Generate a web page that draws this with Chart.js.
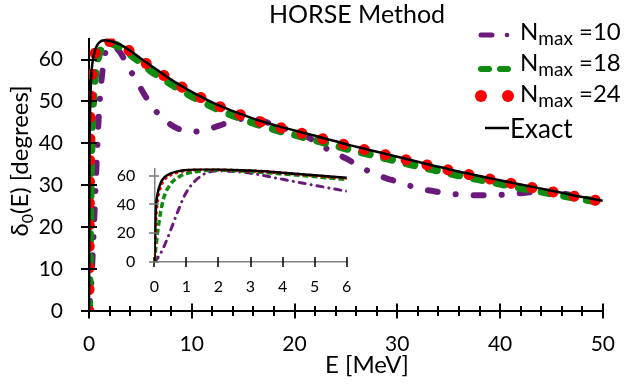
<!DOCTYPE html>
<html>
<head>
<meta charset="utf-8">
<script src="https://cdn.jsdelivr.net/npm/chart.js@4.4.1/dist/chart.umd.min.js"></script>
<style>
body{margin:0;background:#fff;}
#wrap{position:relative;width:636px;height:384px;}
#chartMain{position:absolute;left:0;top:0;}
#chartInset{position:absolute;left:100px;top:140px;}
</style>
</head>
<body>
<div id="wrap">
<canvas id="chartMain" width="636" height="384"></canvas>
<canvas id="chartInset" width="270" height="160"></canvas>
</div>
<script>
const energy = [0, 0.05, 0.1, 0.2, 0.3, 0.5, 0.75, 1, 1.5, 2, 2.5, 3, 4, 5, 6, 7, 8, 9, 10, 11, 12, 13, 14, 15, 16, 17, 18, 19, 20, 21, 22, 23, 24, 25, 26, 27, 28, 29, 30, 32, 34, 36, 38, 40, 42, 44, 46, 48, 50];
const exact = [0, 37, 47, 55, 58.5, 61.5, 63.2, 64.1, 64.6, 64.5, 64.1, 63.6, 62.1, 60.3, 58.6, 56.9, 55.2, 53.7, 52.3, 51.0, 49.8, 48.7, 47.7, 46.8, 45.9, 45.1, 44.4, 43.7, 43.1, 42.4, 41.8, 41.1, 40.5, 39.8, 39.2, 38.6, 38.0, 37.4, 36.8, 35.6, 34.4, 33.3, 32.2, 31.2, 30.2, 29.2, 28.2, 27.2, 26.3];
const nmax24 = [0, 30, 43, 52.5, 57, 60.5, 62.6, 63.7, 64.4, 64.3, 64.0, 63.5, 62.0, 60.1, 58.3, 56.7, 55.0, 53.5, 52.1, 50.8, 49.6, 48.5, 47.5, 46.6, 45.7, 44.9, 44.2, 43.5, 42.9, 42.2, 41.6, 40.9, 40.3, 39.6, 39.0, 38.4, 37.8, 37.2, 36.6, 35.4, 34.2, 33.1, 32.0, 31.0, 30.0, 29.0, 28.0, 27.0, 26.1];
const nmax18 = [0, 10, 20, 35, 45, 54, 59, 61.5, 63.5, 64, 63.6, 63, 61.3, 59.4, 57.4, 55.8, 54.2, 52.7, 51.3, 50.0, 48.8, 47.7, 46.7, 45.8, 44.9, 44.1, 43.4, 42.7, 42.1, 41.4, 40.8, 40.1, 39.5, 38.8, 38.2, 37.6, 37.0, 36.4, 35.8, 34.6, 33.5, 32.4, 31.4, 30.4, 29.4, 28.5, 27.6, 26.7, 25.9];
const nmax10 = [0, 1, 2.5, 6, 10.5, 21.5, 36, 48.5, 60.5, 63.3, 63, 61.8, 57.5, 53.3, 49.3, 46.4, 44.4, 43.2, 42.8, 43.0, 43.7, 44.5, 45.3, 45.9, 46.0, 45.3, 44.4, 43.6, 42.9, 41.9, 40.4, 38.9, 37.6, 36.4, 35.0, 33.6, 32.5, 31.6, 30.9, 29.3, 28.4, 27.8, 27.6, 27.7, 28.1, 28.5, 28.1, 27.1, 26.2];
const mainXLabels = [0, 10, 20, 30, 40, 50];
const legendNmax = ['10', '18', '24'];

const FONT = 'Lato, "Open Sans", sans-serif';
const purple = '#6b1a7b';
const green = '#108a10';
const red = '#ff0000';

Chart.defaults.font.family = FONT;
Chart.defaults.color = '#000';

function points(values) {
	return energy.map((e, i) => ({x: e, y: values[i]}));
}

function seg(ctx, x1, y1, x2, y2) {
	ctx.beginPath();
	ctx.moveTo(x1, y1);
	ctx.lineTo(x2, y2);
	ctx.stroke();
}

function drawParts(ctx, x, y, parts) {
	parts.forEach(p => {
		ctx.font = p[1] + 'px ' + FONT;
		ctx.fillText(p[0], x, y + p[2]);
		x += ctx.measureText(p[0]).width;
	});
	return x;
}

function partsWidth(ctx, parts) {
	let w = 0;
	parts.forEach(p => {
		ctx.font = p[1] + 'px ' + FONT;
		w += ctx.measureText(p[0]).width;
	});
	return w;
}

// tick marks that cross the axis line, placed with the scales
function crossTicks(chart, o) {
	const ctx = chart.ctx;
	const xs = chart.scales.x, ys = chart.scales.y;
	const bottom = Math.round(ys.getPixelForValue(ys.min));
	const left = Math.round(xs.getPixelForValue(xs.min));
	ctx.save();
	ctx.fillStyle = o.xColor;
	for (let i = 0; xs.min + i * o.xStep <= xs.max + 1e-9; i++) {
		const v = xs.min + i * o.xStep;
		const px = Math.round(xs.getPixelForValue(v));
		const h = (Math.abs(v % o.xMajor) < 1e-9) ? o.xBig : o.xSmall;
		ctx.fillRect(px - o.width / 2, bottom - h, o.width, 2 * h);
	}
	ctx.fillStyle = o.yColor;
	for (let i = 0; ys.min + i * o.yStep <= ys.max + 1e-9; i++) {
		const py = Math.round(ys.getPixelForValue(ys.min + i * o.yStep));
		ctx.fillRect(left - o.yLen, py - o.width / 2, 2 * o.yLen, o.width);
	}
	ctx.restore();
}

const mainDecor = {
	id: 'mainDecor',
	beforeDraw(chart) {
		const ctx = chart.ctx;
		ctx.save();
		ctx.fillStyle = '#fff';
		ctx.fillRect(0, 0, chart.width, chart.height);
		ctx.restore();
	},
	afterDraw(chart) {
		const ctx = chart.ctx;
		crossTicks(chart, {width: 2, xColor: '#000', yColor: '#000', xStep: 2, xMajor: 10, xBig: 7.5, xSmall: 5, yStep: 10, yLen: 8});
		ctx.save();
		ctx.fillStyle = '#000';
		ctx.textBaseline = 'alphabetic';

		// title
		ctx.textAlign = 'center';
		ctx.font = '25px ' + FONT;
		ctx.fillText('HORSE Method', 357, 23);

		// x title
		ctx.font = '24px ' + FONT;
		ctx.fillText('E [MeV]', 367, 373);

		// y title with subscript
		ctx.textAlign = 'left';
		const yParts = [['δ', 24, 0], ['0', 16, 5], ['(E) [degrees]', 24, 0]];
		ctx.translate(28, 161);
		ctx.rotate(-Math.PI / 2);
		drawParts(ctx, -partsWidth(ctx, yParts) / 2, 0, yParts);
		ctx.setTransform(1, 0, 0, 1, 0, 0);

		// legend
		const rows = [40, 71, 102];
		rows.forEach((by, i) => {
			drawParts(ctx, 520, by, [['N', 24, 0], ['max', 19, 5], [' =' + legendNmax[i], 24, 0]]);
		});
		ctx.font = '26px ' + FONT;
		ctx.fillText('Exact', 510, 138);

		ctx.lineCap = 'round';
		ctx.strokeStyle = purple;
		ctx.lineWidth = 5;
		seg(ctx, 481, 35, 492, 35);
		ctx.fillStyle = purple;
		ctx.beginPath();
		ctx.arc(507, 35, 2.3, 0, Math.PI * 2);
		ctx.fill();

		ctx.strokeStyle = green;
		ctx.lineWidth = 6;
		seg(ctx, 481, 69, 489, 69);
		seg(ctx, 500, 69, 508, 69);

		ctx.fillStyle = red;
		[481, 508].forEach(cx => {
			ctx.beginPath();
			ctx.arc(cx, 96, 6, 0, Math.PI * 2);
			ctx.fill();
		});

		ctx.lineCap = 'butt';
		ctx.strokeStyle = '#000';
		ctx.lineWidth = 2.5;
		seg(ctx, 485, 128, 509, 128);
		ctx.restore();
	}
};

const insetDecor = {
	id: 'insetDecor',
	afterDraw(chart) {
		crossTicks(chart, {width: 1.5, xColor: '#000', yColor: '#777', xStep: 1, xMajor: 1, xBig: 5, xSmall: 5, yStep: 20, yLen: 5});
	}
};

function dataset(label, values, color, width, dash, cap) {
	return {
		label: label,
		data: points(values),
		borderColor: color,
		borderWidth: width,
		borderDash: dash,
		borderCapStyle: cap,
		pointRadius: 0,
		fill: false,
		cubicInterpolationMode: 'monotone'
	};
}

new Chart(document.getElementById('chartMain'), {
	type: 'line',
	data: {
		datasets: [
			dataset('Exact', exact, '#000', 2.5, [], 'butt'),
			dataset('Nmax=24', nmax24, red, 11, [0.1, 21.4], 'round'),
			dataset('Nmax=18', nmax18, green, 8, [8, 15], 'round'),
			dataset('Nmax=10', nmax10, purple, 6, [10, 18, 0.1, 18], 'round')
		]
	},
	options: {
		responsive: false,
		animation: false,
		events: [],
		layout: {padding: {left: 0, right: 14, top: 4, bottom: 0}},
		scales: {
			x: {
				type: 'linear', min: 0, max: 50,
				afterFit: s => { s.height = 73; },
				grid: {display: false, drawTicks: false},
				border: {color: '#000', width: 2},
				ticks: {stepSize: 2, autoSkip: false, maxRotation: 0, padding: 21, font: {size: 21},
					callback: v => mainXLabels.includes(v) ? v : ''}
			},
			y: {
				min: 0, max: 65,
				afterFit: s => { s.width = 89; },
				grid: {display: false, drawTicks: false},
				border: {color: '#000', width: 2},
				ticks: {stepSize: 10, includeBounds: false, padding: 26, font: {size: 21}}
			}
		},
		plugins: {legend: {display: false}, tooltip: {enabled: false}}
	},
	plugins: [mainDecor]
});

new Chart(document.getElementById('chartInset'), {
	type: 'line',
	data: {
		datasets: [
			dataset('Exact', exact, '#000', 2.5, [], 'butt'),
			dataset('Nmax=24', nmax24, red, 3.5, [0.1, 6], 'round'),
			dataset('Nmax=18', nmax18, green, 3.5, [6, 3], 'butt'),
			dataset('Nmax=10', nmax10, purple, 3, [6, 6, 0.1, 6], 'round')
		]
	},
	options: {
		responsive: false,
		animation: false,
		events: [],
		layout: {padding: {left: 0, right: 23.3, top: 18.3, bottom: 0}},
		scales: {
			x: {
				type: 'linear', min: 0, max: 6,
				afterFit: s => { s.height = 38.3; },
				grid: {display: false, drawTicks: false},
				border: {color: '#808080', width: 1.5},
				ticks: {stepSize: 1, autoSkip: false, maxRotation: 0, padding: 16, font: {size: 16}}
			},
			y: {
				min: 0, max: 65,
				afterFit: s => { s.width = 54.3; },
				grid: {display: false, drawTicks: false},
				border: {color: '#808080', width: 1.5},
				ticks: {stepSize: 20, includeBounds: false, padding: 19, font: {size: 16}}
			}
		},
		plugins: {legend: {display: false}, tooltip: {enabled: false}}
	},
	plugins: [insetDecor]
});
</script>
</body>
</html>
